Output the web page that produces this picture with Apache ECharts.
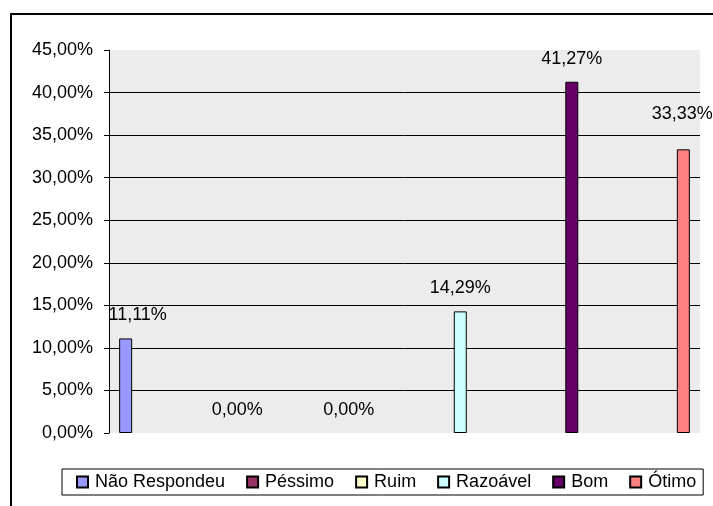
<!DOCTYPE html>
<html>
<head>
<meta charset="utf-8">
<script src="https://cdn.jsdelivr.net/npm/echarts@6/dist/echarts.min.js"></script>
<style>
  html, body { margin: 0; padding: 0; background: #fff; }
  #chart { width: 713px; height: 506px; }
</style>
</head>
<body>
<div id="chart"></div>
<script>
// one category, one bar per answer (Excel style)
const seriesNames = ['Não Respondeu', 'Péssimo', 'Ruim', 'Razoável', 'Bom', 'Ótimo'];
const seriesValues = [11.11, 0, 0, 14.29, 41.27, 33.33];
const seriesColors = ['#9999ff', '#993366', '#ffffcc', '#ccffff', '#660066', '#ff8080'];
const yTicks = [0, 5, 10, 15, 20, 25, 30, 35, 40, 45];

const fmt = v => v.toFixed(2).replace('.', ',') + '%';
const font = 'Liberation Sans, Arial, sans-serif';

// a few labels sit off-centre in the original
const labelOffsets = [[12, 0], [0, 0], [0, 0], [0, 0], [0, 0], [-1, -12]];

const chart = echarts.init(document.getElementById('chart'));

const option = {
  animation: false,
  backgroundColor: '#fff',
  graphic: [{
    type: 'rect',
    shape: { x: 11, y: 14, width: 800, height: 600 },
    style: { fill: 'none', stroke: '#000', lineWidth: 2 },
    z: 100
  }],
  legend: {
    left: 62,
    top: 469,
    padding: [4, 7, 4, 14],
    borderColor: '#000',
    borderWidth: 1,
    itemGap: 21,
    itemWidth: 11,
    itemHeight: 11,
    icon: 'rect',
    data: seriesNames,
    textStyle: { fontFamily: font, fontSize: 18, color: '#000', padding: [0, 0, 0, 2] }
  },
  grid: {
    left: 109,
    right: 13,
    top: 50,
    bottom: 73,
    show: true,
    backgroundColor: '#ececec',
    borderWidth: 0
  },
  xAxis: {
    type: 'category',
    data: [''],
    axisLine: { show: false },
    axisTick: { show: false },
    axisLabel: { show: false }
  },
  yAxis: {
    type: 'value',
    min: yTicks[0],
    max: yTicks[yTicks.length - 1],
    interval: 5,
    axisLine: { show: true, lineStyle: { color: '#000', width: 1 } },
    axisTick: { show: true, length: 5, lineStyle: { color: '#000' } },
    axisLabel: {
      margin: 16,
      fontFamily: font,
      fontSize: 18,
      color: '#000',
      formatter: v => fmt(v)
    },
    splitLine: {
      show: true,
      showMinLine: false,
      showMaxLine: false,
      lineStyle: { color: '#000', width: 1 }
    }
  },
  series: seriesNames.map((name, i) => ({
    name: name,
    type: 'bar',
    data: [{
      value: seriesValues[i],
      // zero-height bars: no outline stub on the baseline
      itemStyle: seriesValues[i] === 0 ? { borderWidth: 0 } : {}
    }],
    barWidth: 13,
    barGap: '758%',
    itemStyle: { color: seriesColors[i], borderColor: '#000', borderWidth: 1 },
    label: {
      show: true,
      position: 'top',
      distance: 14,
      offset: labelOffsets[i],
      fontFamily: font,
      fontSize: 18,
      color: '#000',
      formatter: p => fmt(p.value)
    }
  }))
};

chart.setOption(option);
</script>
</body>
</html>
